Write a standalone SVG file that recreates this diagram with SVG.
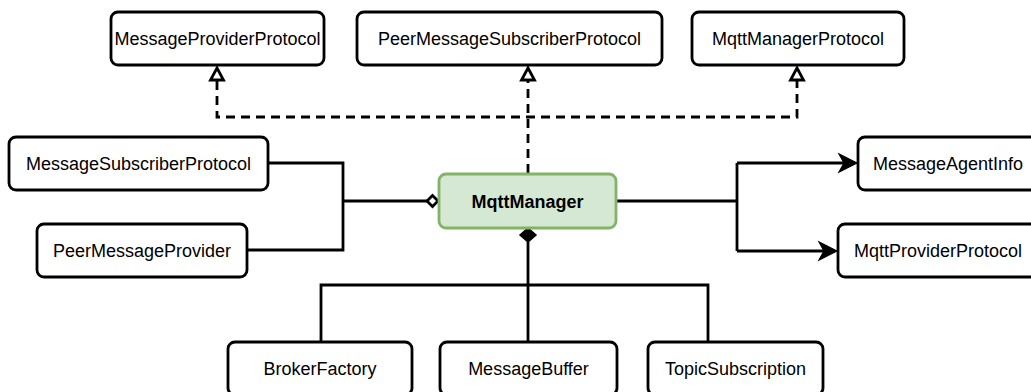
<svg xmlns="http://www.w3.org/2000/svg" width="1031" height="392" viewBox="0 0 1031 392">
<style>
.box{fill:#fff;stroke:#000;stroke-width:2.8}
.main{fill:#d5e8d4;stroke:#82b366;stroke-width:2.8}
.t{font-family:"Liberation Sans",Arial,sans-serif;font-size:18px;fill:#000;text-anchor:middle}
.b{font-weight:bold}
.ln{fill:none;stroke:#000;stroke-width:2.8}
.dash{fill:none;stroke:#000;stroke-width:2.8;stroke-dasharray:9 6}
.hd{fill:#fff;stroke:#000;stroke-width:2.8}
</style>
<rect width="1031" height="392" fill="#fff"/>
<g id="connectors">
  <path class="dash" d="M217,81 V117 H797 V81"/>
  <path class="dash" d="M528,173 V81"/>
  <path class="ln" d="M268,163 H343 V250 H247"/>
  <path class="ln" d="M343,201 H427"/>
  <path class="ln" d="M616,201 H737"/>
  <path class="ln" d="M737,163 V251"/>
  <path class="ln" d="M737,163 H846"/>
  <path class="ln" d="M737,251 H826"/>
  <path class="ln" d="M528,242 V285"/>
  <path class="ln" d="M321,342 V285 H708 V342"/>
  <path class="ln" d="M528,285 V342"/>
  <polygon class="hd" points="217,68 223.5,80 210.5,80"/>
  <polygon class="hd" points="528,68 534.5,80 521.5,80"/>
  <polygon class="hd" points="797,68 803.5,80 790.5,80"/>
  <polygon class="hd" points="438,201 432.5,195.5 427,201 432.5,206.5"/>
  <polygon points="528,228 536,235 528,242 520,235" fill="#000" stroke="#000" stroke-width="1.5"/>
  <path d="M857,163 L839,154 L844,163 L839,172 Z" fill="#000" stroke="#000" stroke-width="1.2"/>
  <path d="M837,251 L819,242 L824,251 L819,260 Z" fill="#000" stroke="#000" stroke-width="1.2"/>
</g>
<g id="MessageProviderProtocol">
  <rect class="box" x="111" y="12" width="213" height="53" rx="7"/>
  <text class="t" x="217.5" y="45">MessageProviderProtocol</text>
</g>
<g id="PeerMessageSubscriberProtocol">
  <rect class="box" x="357" y="12" width="305" height="53" rx="7"/>
  <text class="t" x="509.5" y="45">PeerMessageSubscriberProtocol</text>
</g>
<g id="MqttManagerProtocol">
  <rect class="box" x="692" y="12" width="212" height="53" rx="7"/>
  <text class="t" x="798" y="45">MqttManagerProtocol</text>
</g>
<g id="MessageSubscriberProtocol">
  <rect class="box" x="9" y="137" width="259" height="53" rx="7"/>
  <text class="t" x="138.5" y="170">MessageSubscriberProtocol</text>
</g>
<g id="PeerMessageProvider">
  <rect class="box" x="37" y="224" width="210" height="53" rx="7"/>
  <text class="t" x="142" y="257">PeerMessageProvider</text>
</g>
<g id="MqttManager">
  <rect class="main" x="439" y="174" width="177" height="54" rx="7"/>
  <text class="t b" x="527.5" y="207.5">MqttManager</text>
</g>
<g id="MessageAgentInfo">
  <rect class="box" x="858" y="137" width="180" height="53" rx="7"/>
  <text class="t" x="948" y="170">MessageAgentInfo</text>
</g>
<g id="MqttProviderProtocol">
  <rect class="box" x="838" y="224" width="200" height="53" rx="7"/>
  <text class="t" x="938" y="257">MqttProviderProtocol</text>
</g>
<g id="BrokerFactory">
  <rect class="box" x="228" y="342" width="184" height="53" rx="7"/>
  <text class="t" x="320" y="375">BrokerFactory</text>
</g>
<g id="MessageBuffer">
  <rect class="box" x="440" y="342" width="177" height="53" rx="7"/>
  <text class="t" x="528.5" y="375">MessageBuffer</text>
</g>
<g id="TopicSubscription">
  <rect class="box" x="648" y="342" width="175" height="53" rx="7"/>
  <text class="t" x="735.5" y="375">TopicSubscription</text>
</g>
</svg>
